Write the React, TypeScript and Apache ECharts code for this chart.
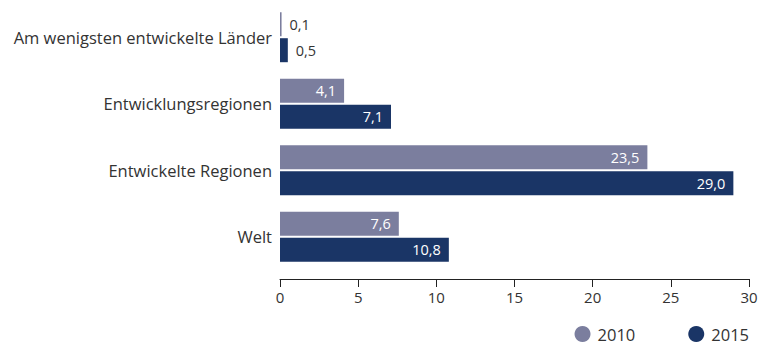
import React, { useEffect, useRef } from "react";
import * as echarts from "echarts";

const categories = [
  "Am wenigsten entwickelte Länder",
  "Entwicklungsregionen",
  "Entwickelte Regionen",
  "Welt",
];
const values2010 = [0.1, 4.1, 23.5, 7.6];
const values2015 = [0.5, 7.1, 29.0, 10.8];
const seriesNames = ["2010", "2015"];
const colors = ["#7b7e9e", "#1a3566"];
const xTicks = { min: 0, max: 30, interval: 5 };

const FONT = "Open Sans";

function buildData(vals: number[]) {
  return vals.map((v) =>
    v < 1
      ? {
          value: v,
          label: {
            position: "right",
            color: "#333333",
            distance: 8,
          },
        }
      : { value: v }
  );
}

export default function App() {
  const ref = useRef<HTMLDivElement>(null);
  useEffect(() => {
    if (!ref.current) return;
    const chart = echarts.init(ref.current, null, { renderer: "svg" });
    const labelCfg = {
      show: true,
      position: "insideRight",
      distance: 8,
      color: "#ffffff",
      fontFamily: FONT,
      fontSize: 14.5,
      formatter: (p: any) => Number(p.value).toFixed(1).replace(".", ","),
    };
    chart.setOption({
      animation: false,
      textStyle: { fontFamily: FONT },
      grid: { left: 280, right: 14, top: 4, height: 266 },
      legend: {
        right: 14,
        bottom: 3,
        padding: 0,
        icon: "circle",
        itemWidth: 16,
        itemHeight: 16,
        itemGap: 53,
        textStyle: {
          fontFamily: FONT,
          fontSize: 16.5,
          lineHeight: 18,
          color: "#333333",
          padding: [0, 0, 0, 2],
        },
        data: seriesNames,
      },
      xAxis: {
        type: "value",
        min: xTicks.min,
        max: xTicks.max,
        interval: xTicks.interval,
        offset: 9,
        axisLine: { show: true, lineStyle: { color: "#222222", width: 1 } },
        axisTick: { show: true, length: 8, lineStyle: { color: "#222222" } },
        splitLine: { show: false },
        axisLabel: { color: "#333333", fontSize: 15, fontFamily: FONT, margin: 10 },
      },
      yAxis: {
        type: "category",
        inverse: true,
        data: categories,
        axisLine: { show: false },
        axisTick: { show: false },
        axisLabel: { color: "#333333", fontSize: 16.5, fontFamily: FONT, margin: 8 },
      },
      series: [
        {
          name: seriesNames[0],
          type: "bar",
          data: buildData(values2010),
          barWidth: 24,
          barGap: "8%",
          itemStyle: { color: colors[0] },
          label: labelCfg,
        },
        {
          name: seriesNames[1],
          type: "bar",
          data: buildData(values2015),
          barWidth: 24,
          barGap: "8%",
          itemStyle: { color: colors[1] },
          label: labelCfg,
        },
      ],
    });
    return () => chart.dispose();
  }, []);
  return (
    <div
      ref={ref}
      style={{ position: "absolute", left: 0, top: 0, width: 763, height: 346, background: "#ffffff" }}
    />
  );
}
